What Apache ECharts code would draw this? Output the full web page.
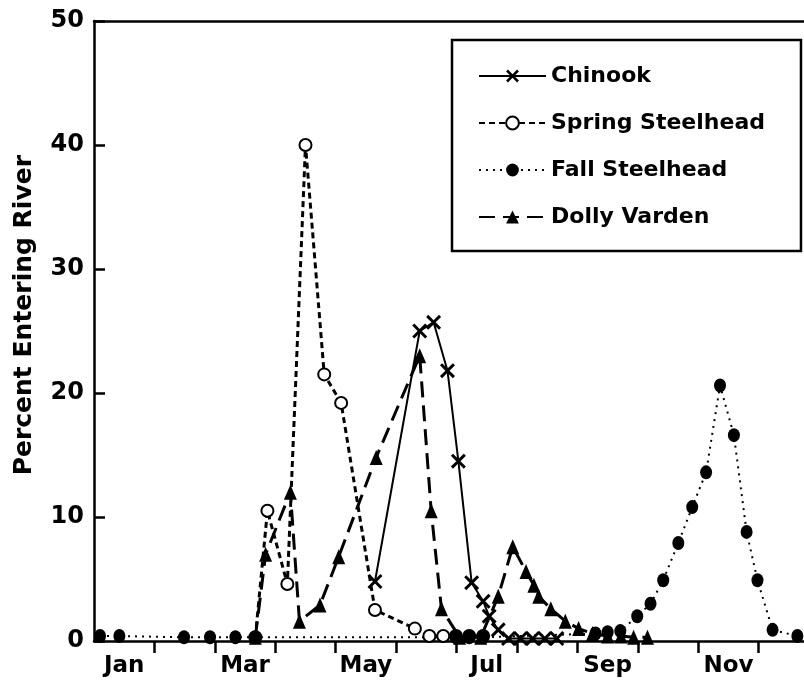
<!DOCTYPE html>
<html>
<head>
<meta charset="utf-8">
<script src="https://cdn.jsdelivr.net/npm/echarts@6/dist/echarts.min.js"></script>
<style>
  html, body { margin: 0; padding: 0; background: #fff; }
  #chart { width: 804px; height: 693px; }
</style>
</head>
<body>
<div id="chart"></div>
<script>
// ---- Data (x = month position, 0 = 1 Jan, 1 = 1 Feb, ...; y = percent entering river) ----
const MONTH_TICKS = [1, 2, 3, 4, 5, 6, 7, 8, 9, 10, 11];
const MONTH_LABEL_POS = [0.5, 2.5, 4.5, 6.5, 8.5, 10.5];
const MONTH_LABELS = ['Jan', 'Mar', 'May', 'Jul', 'Sep', 'Nov'];

const SERIES_NAMES = ['Chinook', 'Spring Steelhead', 'Fall Steelhead', 'Dolly Varden'];

const chinookMonth = [4.65, 5.39, 5.62, 5.85, 6.03, 6.25, 6.44, 6.54, 6.69, 6.86, 7.06, 7.26, 7.46, 7.66];
const chinookPct   = [4.8, 25.0, 25.7, 21.8, 14.5, 4.7, 3.2, 2.0, 0.9, 0.2, 0.2, 0.2, 0.2, 0.2];

const springMonth = [2.67, 2.87, 3.20, 3.50, 3.81, 4.09, 4.65, 5.31, 5.55, 5.78, 5.99, 6.21, 6.44];
const springPct   = [0.3, 10.5, 4.6, 40.0, 21.5, 19.2, 2.5, 1.0, 0.4, 0.4, 0.4, 0.4, 0.4];

const fallMonth = [0.10, 0.42, 1.49, 1.92, 2.34, 2.67, 5.99, 6.21, 6.44, 8.30, 8.50, 8.71, 8.99, 9.21,
                   9.42, 9.67, 9.90, 10.13, 10.36, 10.59, 10.80, 10.98, 11.23, 11.64];
const fallPct   = [0.4, 0.4, 0.3, 0.3, 0.3, 0.3, 0.3, 0.3, 0.3, 0.6, 0.7, 0.8, 2.0, 3.0,
                   4.9, 7.9, 10.8, 13.6, 20.6, 16.6, 8.8, 4.9, 0.9, 0.4];

const dollyMonth = [2.67, 2.84, 3.25, 3.40, 3.74, 4.05, 4.67, 5.39, 5.58, 5.75, 6.05, 6.40, 6.69, 6.93,
                    7.15, 7.28, 7.36, 7.56, 7.80, 8.02, 8.25, 8.50, 8.72, 8.93, 9.16];
const dollyPct   = [0.3, 7.0, 12.0, 1.6, 2.9, 6.8, 14.8, 23.0, 10.5, 2.6, 0.3, 0.3, 3.6, 7.6,
                    5.6, 4.5, 3.6, 2.6, 1.6, 1.0, 0.6, 0.4, 0.4, 0.3, 0.3];

const Y_TITLE = 'Percent Entering River';

// ---- helpers ----
function zip(xs, ys) { return xs.map((x, i) => [x, ys[i]]); }

const FONT = 'DejaVu Sans';
const X_SYMBOL = 'path://M0,1.4L1.4,0L5,3.6L8.6,0L10,1.4L6.4,5L10,8.6L8.6,10L5,6.4L1.4,10L0,8.6L3.6,5Z';

const chart = echarts.init(document.getElementById('chart'), null, { renderer: 'canvas' });

const option = {
  backgroundColor: '#ffffff',
  animation: false,
  grid: { left: 94, right: 0, top: 21, bottom: 52, containLabel: false },
  legend: {
    orient: 'vertical',
    left: 452,
    top: 40,
    data: SERIES_NAMES,
    backgroundColor: '#fff',
    borderColor: '#000',
    borderWidth: 2.5,
    borderRadius: 0,
    padding: [24, 36, 22, 26],
    itemGap: 23,
    itemWidth: 67,
    itemHeight: 16,
    textStyle: { fontFamily: FONT, fontWeight: 'bold', fontSize: 22, color: '#000', lineHeight: 24 }
  },
  xAxis: [{
    type: 'value',
    min: 0,
    max: 11.75,
    axisLine: { show: true, lineStyle: { color: '#000', width: 2.5 } },
    axisTick: { show: true, inside: false, length: 12, customValues: MONTH_TICKS,
                lineStyle: { color: '#000', width: 2.5 } },
    axisLabel: {
      show: true, customValues: MONTH_LABEL_POS, margin: 14,
      fontFamily: FONT, fontWeight: 'bold', fontSize: 23, color: '#000',
      formatter: function (v) {
        const i = MONTH_LABEL_POS.indexOf(v);
        return i >= 0 ? MONTH_LABELS[i] : '';
      }
    },
    splitLine: { show: false }
  }, {
    type: 'value',
    position: 'top',
    min: 0,
    max: 11.75,
    axisLine: { show: true, onZero: false, lineStyle: { color: '#000', width: 2.5 } },
    axisTick: { show: false },
    axisLabel: { show: false },
    splitLine: { show: false }
  }],
  yAxis: {
    type: 'value',
    min: 0,
    max: 50,
    interval: 10,
    axisLine: { show: true, lineStyle: { color: '#000', width: 2.5 } },
    axisTick: { show: true, inside: true, length: 11, lineStyle: { color: '#000', width: 2.5 } },
    axisLabel: { margin: 10, fontFamily: FONT, fontWeight: 'bold', fontSize: 24, color: '#000' },
    splitLine: { show: false }
  },
  graphic: [{
    type: 'text',
    left: 12,
    top: 155,
    rotation: Math.PI / 2,
    originX: 0, originY: 0,
    style: {
      text: Y_TITLE,
      fontFamily: FONT, fontWeight: 'bold', fontSize: 25, fill: '#000'
    }
  }],
  series: [
    {
      name: SERIES_NAMES[0], type: 'line', data: zip(chinookMonth, chinookPct),
      symbol: X_SYMBOL, symbolSize: 15,
      lineStyle: { color: '#000', width: 2, type: 'solid' },
      itemStyle: { color: '#000' }, z: 4
    },
    {
      name: SERIES_NAMES[1], type: 'line', data: zip(springMonth, springPct),
      symbol: 'emptyCircle', symbolSize: 12,
      lineStyle: { color: '#000', width: 3, type: [6, 4] },
      itemStyle: { color: '#000', borderColor: '#000', borderWidth: 2.5 }, z: 3
    },
    {
      name: SERIES_NAMES[2], type: 'line', data: zip(fallMonth, fallPct),
      symbol: 'circle', symbolSize: [12, 14],
      lineStyle: { color: '#000', width: 2, type: [2, 5] },
      itemStyle: { color: '#000' }, z: 3
    },
    {
      name: SERIES_NAMES[3], type: 'line', data: zip(dollyMonth, dollyPct),
      symbol: 'triangle', symbolSize: [13, 15],
      lineStyle: { color: '#000', width: 3, type: [16, 8] },
      itemStyle: { color: '#000' }, z: 3
    }
  ]
};

chart.setOption(option);
</script>
</body>
</html>
